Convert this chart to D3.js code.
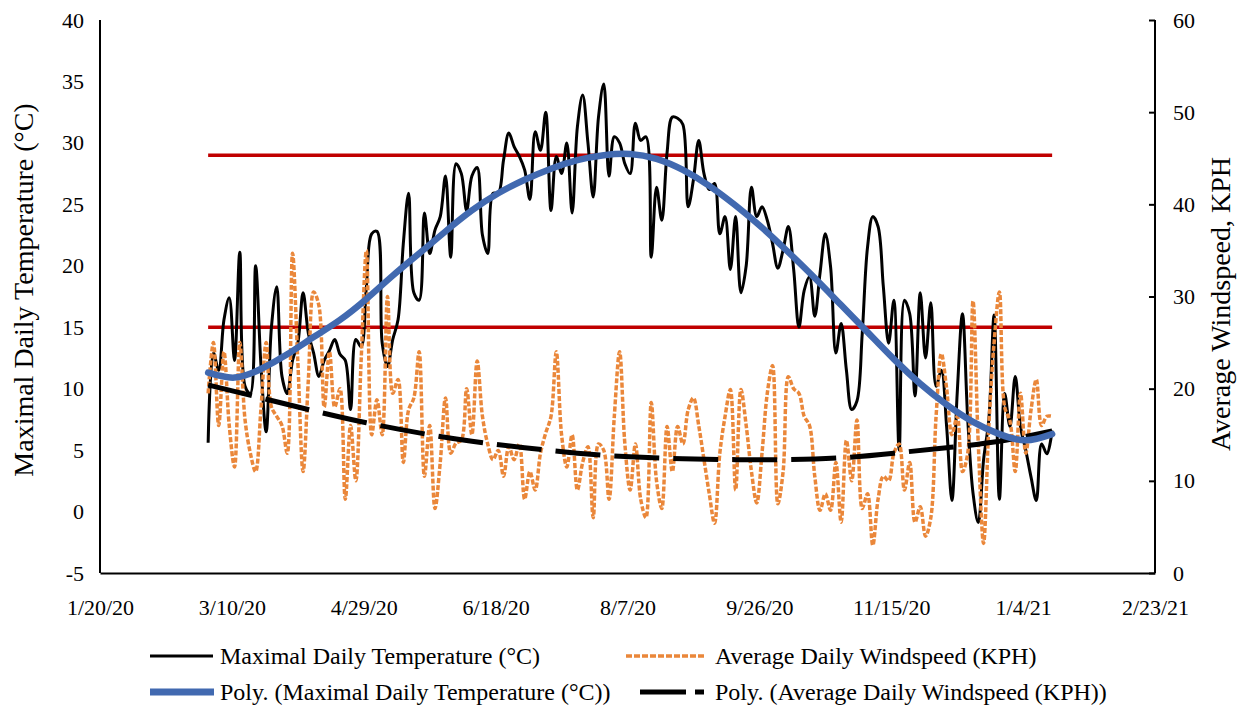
<!DOCTYPE html>
<html>
<head>
<meta charset="utf-8">
<script src="https://cdn.jsdelivr.net/npm/d3@7"></script>
<style>
  body { margin: 0; background: #fff; }
  svg text { font-family: "Liberation Serif", "Times New Roman", serif; fill: #000; }
</style>
</head>
<body>
<svg id="chart"></svg>
<script>
// ---- data ----
// x axis ticks (every 50 days)
const tickLabels = ['1/20/20', '3/10/20', '4/29/20', '6/18/20', '8/7/20', '9/26/20', '11/15/20', '1/4/21', '2/23/21'];
const leftTicks = [-5, 0, 5, 10, 15, 20, 25, 30, 35, 40];
const rightTicks = [0, 10, 20, 30, 40, 50, 60];

// series sampled every 2 days starting 3/1/20
const seriesStart = '3/1/20';
const stepDays = 2;

const maxTemp = [
  5.6, 12.9, 11.5, 15.6, 17.4, 12.3, 21.1, 10.2, 9.6, 20.0, 12.0, 6.5, 15.0, 18.3, 11.0, 9.6, 12.3, 13.7, 17.8, 14.5,
  12.9, 11.0, 12.3, 13.1, 14.0, 12.8, 12.3, 8.3, 14.0, 13.4, 18.3, 22.6, 22.8, 13.7, 11.8, 14.0, 15.6, 21.8, 25.9, 17.8,
  17.2, 24.3, 21.0, 22.9, 24.0, 27.3, 20.7, 28.3, 27.5, 24.5, 27.3, 28.0, 22.5, 21.0, 25.9, 25.9, 28.6, 30.8, 29.7, 28.9,
  27.8, 25.4, 30.9, 29.4, 32.5, 24.5, 28.9, 27.5, 30.0, 24.3, 31.3, 33.9, 30.0, 25.6, 32.1, 34.8, 27.3, 30.5, 30.0, 28.3,
  27.5, 31.6, 30.2, 30.5, 20.7, 26.4, 23.7, 29.2, 32.1, 32.0, 31.5, 24.8, 27.0, 30.2, 27.5, 26.2, 26.7, 22.6, 24.0, 19.7,
  24.0, 17.8, 20.0, 26.4, 24.0, 24.8, 23.7, 21.8, 19.8, 21.3, 23.2, 19.7, 15.0, 18.0, 19.1, 15.9, 19.4, 22.6, 19.9, 12.9,
  15.3, 11.5, 8.3, 9.0, 14.5, 21.5, 24.0, 23.2, 18.3, 13.7, 17.2, 5.0, 17.2, 16.1, 9.4, 17.8, 12.5, 17.0, 10.2, 11.5,
  6.9, 0.9, 9.6, 16.1, 7.5, 1.5, -0.9, 4.2, 7.5, 16.0, 1.0, 9.6, 6.9, 11.0, 6.9, 5.0, 2.8, 0.9, 5.5, 4.7,
  6.6
];

const windSpeed = [
  19.5, 25, 16, 24, 16, 11.5, 25, 16.6, 13, 11, 17.7, 25, 18, 17, 16, 13, 34.7, 23, 11, 21,
  30.5, 29, 18, 24, 18, 20, 8, 16, 10, 23, 35, 15, 18.8, 15, 30, 19.5, 21, 12, 17.7, 19,
  24, 10.5, 16, 7, 12, 19, 13, 14.1, 14.4, 20, 15, 23, 17, 14, 12.3, 13.3, 10.5, 13.7, 12.3, 14,
  8, 11, 9, 13, 15.2, 17, 24, 15, 11.5, 15, 9, 12, 13.7, 6, 14, 13.3, 8, 17, 24, 14,
  9, 14, 8, 6, 18.5, 10, 7, 15.9, 11, 15.9, 14, 17.7, 19, 16, 12.3, 8.6, 5.4, 13, 17, 19.9,
  9, 19.9, 16, 11, 7.6, 13, 19.5, 22.5, 7.5, 11, 21.3, 20, 19.5, 17, 16, 10.5, 6.8, 8.6, 6.8, 12,
  5.5, 14.4, 10, 16.6, 7, 8.6, 3, 8, 10.5, 10, 13, 14, 9, 12, 5.5, 7.2, 4, 6, 17, 23.8,
  20, 15, 17, 11, 13, 29.5, 14, 3.2, 16, 25, 30.5, 18, 16.5, 11, 19.5, 13, 17.7, 21, 16, 17,
  17
];

// Excel poly trend lines, read every 10 days (temperature) and every 20 days (wind)
const tempTrend = [11.3, 10.9, 11.6, 12.8, 14.2, 15.6, 17.3, 19.2, 21.0, 22.8, 24.5, 25.9, 27.0, 27.9, 28.6, 29.0, 29.1,
  28.7, 27.8, 26.5, 24.9, 23.1, 21.1, 19.0, 16.8, 14.6, 12.4, 10.4, 8.7, 7.3, 6.3, 5.8, 6.3];
const windTrend = [20.4, 19.0, 17.6, 16.3, 15.2, 14.3, 13.6, 13.0, 12.6, 12.4, 12.3, 12.3, 12.5, 13.0, 13.6, 14.3, 15.4];

// reference lines (°C)
const thresholds = [29, 15];

const legendItems = [
  {label: 'Maximal Daily Temperature (°C)', key: 'temp'},
  {label: 'Average Daily Windspeed (KPH)', key: 'wind'},
  {label: 'Poly. (Maximal Daily Temperature (°C))', key: 'tempTrend'},
  {label: 'Poly. (Average Daily Windspeed (KPH))', key: 'windTrend'}
];

class DualAxisChart {

  constructor(_config) {
    this.config = {
      parentElement: _config.parentElement,
      containerWidth: 1245,
      containerHeight: 712,
      margin: {top: 20, right: 90, bottom: 139, left: 100}
    };
    this.initVis();
  }

  initVis() {
    let vis = this;

    vis.width = vis.config.containerWidth - vis.config.margin.left - vis.config.margin.right;
    vis.height = vis.config.containerHeight - vis.config.margin.top - vis.config.margin.bottom;

    vis.parse = d3.timeParse('%m/%d/%y');
    vis.tickDates = tickLabels.map(vis.parse);

    vis.xScale = d3.scaleTime()
        .domain([vis.tickDates[0], vis.tickDates[vis.tickDates.length - 1]])
        .range([0, vis.width]);
    vis.yLeft = d3.scaleLinear().domain([-5, 40]).range([vis.height, 0]);
    vis.yRight = d3.scaleLinear().domain([0, 60]).range([vis.height, 0]);

    vis.svg = d3.select(vis.config.parentElement)
        .attr('width', vis.config.containerWidth)
        .attr('height', vis.config.containerHeight);

    vis.chart = vis.svg.append('g')
        .attr('transform', `translate(${vis.config.margin.left},${vis.config.margin.top})`);

    // plain hyphen for negatives, like the original
    vis.xAxis = d3.axisBottom(vis.xScale)
        .tickValues(vis.tickDates)
        .tickFormat((d, i) => tickLabels[i])
        .tickSize(0).tickPadding(26);
    vis.leftAxis = d3.axisLeft(vis.yLeft).tickValues(leftTicks)
        .tickFormat(d => String(d)).tickSize(0).tickPadding(16);
    vis.rightAxis = d3.axisRight(vis.yRight).tickValues(rightTicks)
        .tickFormat(d => String(d)).tickSize(-6).tickPadding(18);
  }

  updateVis() {
    let vis = this;
    const start = vis.parse(seriesStart);
    vis.dateAt = i => d3.timeDay.offset(start, i * stepDays);

    vis.tempData = maxTemp.map((v, i) => ({date: vis.dateAt(i), value: v}));
    vis.windData = windSpeed.map((v, i) => ({date: vis.dateAt(i), value: v}));
    vis.tempTrendData = tempTrend.map((v, i) => ({date: vis.dateAt(i * 5), value: v}));
    vis.windTrendData = windTrend.map((v, i) => ({date: vis.dateAt(i * 10), value: v}));
    vis.lastDate = vis.dateAt(maxTemp.length - 1);

    vis.renderVis();
  }

  renderVis() {
    let vis = this;

    // threshold lines
    vis.chart.selectAll('.threshold')
        .data(thresholds)
      .join('line')
        .attr('class', 'threshold')
        .attr('x1', vis.xScale(vis.dateAt(0)))
        .attr('x2', vis.xScale(vis.lastDate))
        .attr('y1', d => vis.yLeft(d))
        .attr('y2', d => vis.yLeft(d))
        .attr('stroke', '#c00000')
        .attr('stroke-width', 3.5);

    const lineLeft = d3.line().x(d => vis.xScale(d.date)).y(d => vis.yLeft(d.value));
    const lineRight = d3.line().x(d => vis.xScale(d.date)).y(d => vis.yRight(d.value));

    vis.chart.append('path')
        .datum(vis.tempData)
        .attr('fill', 'none')
        .attr('stroke', '#000')
        .attr('stroke-width', 3)
        .attr('stroke-linejoin', 'round')
        .attr('d', lineLeft.curve(d3.curveCatmullRom.alpha(0.5)));

    vis.chart.append('path')
        .datum(vis.windData)
        .attr('fill', 'none')
        .attr('stroke', '#ea873a')
        .attr('stroke-width', 3.5)
        .attr('stroke-dasharray', '5,2')
        .attr('d', lineRight.curve(d3.curveCatmullRom.alpha(0.5)));

    vis.chart.append('path')
        .datum(vis.windTrendData)
        .attr('fill', 'none')
        .attr('stroke', '#000')
        .attr('stroke-width', 5)
        .attr('stroke-dasharray', '45,14')
        .attr('d', lineRight.curve(d3.curveNatural));

    vis.chart.append('path')
        .datum(vis.tempTrendData)
        .attr('fill', 'none')
        .attr('stroke', '#4169b0')
        .attr('stroke-width', 6.5)
        .attr('stroke-linecap', 'round')
        .attr('d', lineLeft.curve(d3.curveNatural));

    // axes
    const xAxisG = vis.chart.append('g')
        .attr('transform', `translate(0,${vis.height})`)
        .call(vis.xAxis);
    const leftAxisG = vis.chart.append('g').call(vis.leftAxis);
    const rightAxisG = vis.chart.append('g')
        .attr('transform', `translate(${vis.width},0)`)
        .call(vis.rightAxis);

    [xAxisG, leftAxisG, rightAxisG].forEach(g => {
      g.select('.domain').attr('stroke', '#000').attr('stroke-width', 2);
      g.selectAll('.tick line').attr('stroke', '#000').attr('stroke-width', 2);
      g.selectAll('.tick text')
          .style('font-family', '"Liberation Serif", "Times New Roman", serif')
          .style('font-size', '22px');
    });
    leftAxisG.select('.domain').attr('d', `M0,0V${vis.height}`);
    rightAxisG.select('.domain').attr('d', `M0,0V${vis.height}`);

    // axis titles
    vis.svg.append('text')
        .attr('transform', `translate(33,${vis.config.margin.top + 270}) rotate(-90)`)
        .attr('text-anchor', 'middle')
        .style('font-size', '28px')
        .text('Maximal Daily Temperature (°C)');

    vis.svg.append('text')
        .attr('transform', `translate(1230,${vis.config.margin.top + 284}) rotate(-90)`)
        .attr('text-anchor', 'middle')
        .style('font-size', '28px')
        .text('Average Windspeed, KPH');

    // legend
    const legendPos = [
      {x: 150, y: 656}, {x: 626, y: 656},
      {x: 150, y: 692}, {x: 626, y: 692}
    ];
    const legendStyle = {
      temp: {stroke: '#000', width: 3, dash: null, len: 63},
      wind: {stroke: '#ea873a', width: 3.5, dash: '6,2', len: 78},
      tempTrend: {stroke: '#4169b0', width: 7, dash: null, len: 64},
      windTrend: {stroke: '#000', width: 5, dash: '46,9', len: 64, offset: 14}
    };
    const legend = vis.svg.selectAll('.legend-item')
        .data(legendItems)
      .join('g')
        .attr('class', 'legend-item')
        .attr('transform', (d, i) => `translate(${legendPos[i].x},${legendPos[i].y})`);

    legend.append('line')
        .attr('x1', d => legendStyle[d.key].offset || 0)
        .attr('x2', d => (legendStyle[d.key].offset || 0) + legendStyle[d.key].len)
        .attr('stroke', d => legendStyle[d.key].stroke)
        .attr('stroke-width', d => legendStyle[d.key].width)
        .attr('stroke-dasharray', d => legendStyle[d.key].dash);

    legend.append('text')
        .attr('x', (d, i) => i % 2 === 0 ? 70 : 89)
        .attr('dy', '0.33em')
        .style('font-size', '24px')
        .text(d => d.label);
  }
}

const chart = new DualAxisChart({parentElement: '#chart'});
chart.updateVis();
</script>
</body>
</html>
